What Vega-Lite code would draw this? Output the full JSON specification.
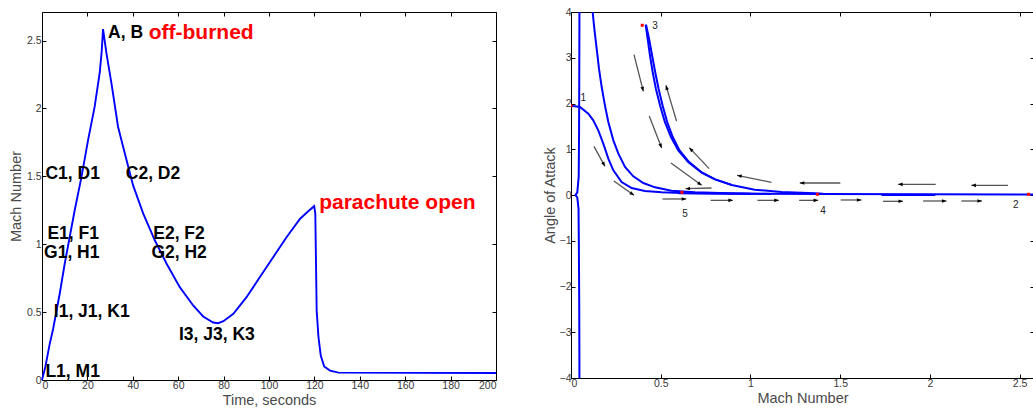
{
  "$schema": "https://vega.github.io/schema/vega-lite/v6.json",
  "padding": {"left": 7, "top": 6, "right": 0, "bottom": 0},
  "background": "white",
  "spacing": 40,
  "config": {
    "view": {"stroke": "#000", "strokeWidth": 1},
    "axis": {
      "labelFont": "Liberation Sans", "labelFontSize": 10.5, "labelColor": "#3a3a3a",
      "titleFont": "Liberation Sans", "titleFontSize": 14.5, "titleFontWeight": "normal", "titleColor": "#4a4a4a",
      "grid": false, "domain": false, "tickColor": "#000", "tickSize": -4, "labelPadding": 4, "titlePadding": 3
    }
  },
  "datasets": {
    "mach": [
      {"t": 0, "M": 0}, {"t": 1.5, "M": 0.1}, {"t": 3.4, "M": 0.266}, {"t": 4.9, "M": 0.376},
      {"t": 7.8, "M": 0.635}, {"t": 10, "M": 0.856}, {"t": 12.2, "M": 1.053}, {"t": 14.4, "M": 1.25},
      {"t": 17.4, "M": 1.496}, {"t": 20.3, "M": 1.767}, {"t": 23.2, "M": 2.013}, {"t": 25.4, "M": 2.259},
      {"t": 26.3, "M": 2.42}, {"t": 26.9, "M": 2.584}, {"t": 28.4, "M": 2.406}, {"t": 30.6, "M": 2.185},
      {"t": 33.5, "M": 1.865}, {"t": 36.5, "M": 1.668}, {"t": 40.1, "M": 1.435}, {"t": 44.6, "M": 1.225},
      {"t": 49.7, "M": 1.029}, {"t": 54.9, "M": 0.856}, {"t": 60.7, "M": 0.684}, {"t": 66.6, "M": 0.549},
      {"t": 71.0, "M": 0.468}, {"t": 75.4, "M": 0.423}, {"t": 77.6, "M": 0.418}, {"t": 79.9, "M": 0.433},
      {"t": 84.3, "M": 0.487}, {"t": 90.1, "M": 0.61}, {"t": 96.0, "M": 0.758}, {"t": 101.9, "M": 0.906},
      {"t": 107.8, "M": 1.053}, {"t": 113.7, "M": 1.188}, {"t": 117.4, "M": 1.245}, {"t": 119.9, "M": 1.28},
      {"t": 120.4, "M": 1.225}, {"t": 121.0, "M": 0.512}, {"t": 121.8, "M": 0.315}, {"t": 122.8, "M": 0.18},
      {"t": 124.3, "M": 0.1}, {"t": 126.9, "M": 0.069}, {"t": 130.6, "M": 0.054}, {"t": 200, "M": 0.052}
    ],
    "marks": [
      {"t": 29.1, "M": 2.555, "label": "A, B"},
      {"t": 1.5, "M": 1.514, "label": "C1, D1"},
      {"t": 36.9, "M": 1.514, "label": "C2, D2"},
      {"t": 2.4, "M": 1.075, "label": "E1, F1"},
      {"t": 49.0, "M": 1.075, "label": "E2, F2"},
      {"t": 0.9, "M": 0.938, "label": "G1, H1"},
      {"t": 48.2, "M": 0.938, "label": "G2, H2"},
      {"t": 5.2, "M": 0.499, "label": "I1, J1, K1"},
      {"t": 60.3, "M": 0.332, "label": "I3, J3, K3"},
      {"t": 1.5, "M": 0.061, "label": "L1, M1"}
    ],
    "events": [
      {"t": 47.0, "M": 2.555, "label": "off-burned"},
      {"t": 122.1, "M": 1.3, "label": "parachute open"}
    ],
    "traj": [
      {"c": "t0", "i": 0, "M": 0.047, "a": -4}, {"c": "t0", "i": 1, "M": 0.046, "a": -2.5},
      {"c": "t0", "i": 2, "M": 0.044, "a": -1.2}, {"c": "t0", "i": 3, "M": 0.042, "a": -0.3},
      {"c": "t0", "i": 4, "M": 0.035, "a": -0.05}, {"c": "t0", "i": 5, "M": 0.025, "a": 0},
      {"c": "t0", "i": 6, "M": 0.035, "a": 0.05}, {"c": "t0", "i": 7, "M": 0.043, "a": 0.4},
      {"c": "t0", "i": 8, "M": 0.045, "a": 1.4}, {"c": "t0", "i": 9, "M": 0.046, "a": 2.5},
      {"c": "t0", "i": 10, "M": 0.047, "a": 4},
      {"c": "t1", "i": 0, "M": 0.0, "a": 1.95}, {"c": "t1", "i": 1, "M": 0.05, "a": 1.924},
      {"c": "t1", "i": 2, "M": 0.0965, "a": 1.778}, {"c": "t1", "i": 3, "M": 0.124, "a": 1.632},
      {"c": "t1", "i": 4, "M": 0.152, "a": 1.413}, {"c": "t1", "i": 5, "M": 0.18, "a": 1.122},
      {"c": "t1", "i": 6, "M": 0.208, "a": 0.794}, {"c": "t1", "i": 7, "M": 0.236, "a": 0.539},
      {"c": "t1", "i": 8, "M": 0.282, "a": 0.284}, {"c": "t1", "i": 9, "M": 0.338, "a": 0.153},
      {"c": "t1", "i": 10, "M": 0.412, "a": 0.087}, {"c": "t1", "i": 11, "M": 0.505, "a": 0.058},
      {"c": "t1", "i": 12, "M": 0.616, "a": 0.044}, {"c": "t1", "i": 13, "M": 0.8, "a": 0.035},
      {"c": "t1", "i": 14, "M": 1.0, "a": 0.03},
      {"c": "t2", "i": 0, "M": 0.1206, "a": 4.0}, {"c": "t2", "i": 1, "M": 0.13, "a": 3.636},
      {"c": "t2", "i": 2, "M": 0.143, "a": 3.2}, {"c": "t2", "i": 3, "M": 0.156, "a": 2.76},
      {"c": "t2", "i": 4, "M": 0.171, "a": 2.36}, {"c": "t2", "i": 5, "M": 0.189, "a": 1.96},
      {"c": "t2", "i": 6, "M": 0.208, "a": 1.596}, {"c": "t2", "i": 7, "M": 0.236, "a": 1.195},
      {"c": "t2", "i": 8, "M": 0.264, "a": 0.903}, {"c": "t2", "i": 9, "M": 0.301, "a": 0.612},
      {"c": "t2", "i": 10, "M": 0.347, "a": 0.408}, {"c": "t2", "i": 11, "M": 0.403, "a": 0.262},
      {"c": "t2", "i": 12, "M": 0.468, "a": 0.168}, {"c": "t2", "i": 13, "M": 0.56, "a": 0.095},
      {"c": "t2", "i": 14, "M": 0.69, "a": 0.058}, {"c": "t2", "i": 15, "M": 0.876, "a": 0.036},
      {"c": "t2", "i": 16, "M": 1.117, "a": 0.022},
      {"c": "t3", "i": 0, "M": 0.416, "a": 3.723}, {"c": "t3", "i": 1, "M": 0.427, "a": 3.417},
      {"c": "t3", "i": 2, "M": 0.44, "a": 3.053}, {"c": "t3", "i": 3, "M": 0.455, "a": 2.689},
      {"c": "t3", "i": 4, "M": 0.473, "a": 2.324}, {"c": "t3", "i": 5, "M": 0.496, "a": 1.96},
      {"c": "t3", "i": 6, "M": 0.523, "a": 1.596}, {"c": "t3", "i": 7, "M": 0.557, "a": 1.268},
      {"c": "t3", "i": 8, "M": 0.598, "a": 0.976}, {"c": "t3", "i": 9, "M": 0.653, "a": 0.721},
      {"c": "t3", "i": 10, "M": 0.728, "a": 0.488}, {"c": "t3", "i": 11, "M": 0.802, "a": 0.342},
      {"c": "t3", "i": 12, "M": 0.895, "a": 0.219}, {"c": "t3", "i": 13, "M": 1.024, "a": 0.117},
      {"c": "t3", "i": 14, "M": 1.173, "a": 0.066}, {"c": "t3", "i": 15, "M": 1.359, "a": 0.036},
      {"c": "t3", "i": 16, "M": 1.405, "a": 0.029},
      {"c": "t3b", "i": 0, "M": 0.418, "a": 3.72}, {"c": "t3b", "i": 1, "M": 0.435, "a": 3.417},
      {"c": "t3b", "i": 2, "M": 0.452, "a": 3.053}, {"c": "t3b", "i": 3, "M": 0.469, "a": 2.689},
      {"c": "t3b", "i": 4, "M": 0.488, "a": 2.324}, {"c": "t3b", "i": 5, "M": 0.51, "a": 1.96},
      {"c": "t3b", "i": 6, "M": 0.536, "a": 1.596}, {"c": "t3b", "i": 7, "M": 0.567, "a": 1.268},
      {"c": "t3b", "i": 8, "M": 0.605, "a": 0.976}, {"c": "t3b", "i": 9, "M": 0.658, "a": 0.721},
      {"c": "t3b", "i": 10, "M": 0.731, "a": 0.488}, {"c": "t3b", "i": 11, "M": 0.804, "a": 0.342},
      {"c": "t3b", "i": 12, "M": 0.895, "a": 0.222},
      {"c": "t4", "i": 0, "M": 0.6, "a": 0.04}, {"c": "t4", "i": 1, "M": 1.0, "a": 0.028},
      {"c": "t4", "i": 2, "M": 1.4, "a": 0.022}, {"c": "t4", "i": 3, "M": 2.0, "a": 0.016},
      {"c": "t4", "i": 4, "M": 2.58, "a": 0.012},
      {"c": "t5", "i": 0, "M": 1.73, "a": 0.0}, {"c": "t5", "i": 1, "M": 2.03, "a": 0.0}
    ],
    "arrows": [
      {"x": 0.351, "y": 3.067, "x2": 0.403, "y2": 2.266},
      {"x": 0.588, "y": 1.617, "x2": 0.529, "y2": 2.397},
      {"x": 0.436, "y": 1.727, "x2": 0.505, "y2": 1.027},
      {"x": 0.77, "y": 0.576, "x2": 0.659, "y2": 1.035},
      {"x": 0.557, "y": 0.699, "x2": 0.728, "y2": 0.211},
      {"x": 0.128, "y": 1.064, "x2": 0.189, "y2": 0.627},
      {"x": 0.239, "y": 0.306, "x2": 0.351, "y2": -0.007},
      {"x": 1.117, "y": 0.277, "x2": 0.926, "y2": 0.43},
      {"x": 0.783, "y": 0.153, "x2": 0.638, "y2": 0.138},
      {"x": 1.501, "y": 0.262, "x2": 1.275, "y2": 0.262},
      {"x": 2.032, "y": 0.233, "x2": 1.823, "y2": 0.233},
      {"x": 2.435, "y": 0.211, "x2": 2.231, "y2": 0.211},
      {"x": 0.51, "y": -0.087, "x2": 0.642, "y2": -0.087},
      {"x": 0.778, "y": -0.117, "x2": 0.902, "y2": -0.117},
      {"x": 1.039, "y": -0.117, "x2": 1.158, "y2": -0.117},
      {"x": 1.271, "y": -0.117, "x2": 1.377, "y2": -0.117},
      {"x": 1.503, "y": -0.109, "x2": 1.618, "y2": -0.109},
      {"x": 1.739, "y": -0.138, "x2": 1.85, "y2": -0.138},
      {"x": 1.962, "y": -0.131, "x2": 2.092, "y2": -0.131},
      {"x": 2.175, "y": -0.131, "x2": 2.29, "y2": -0.131}
    ],
    "pts": [
      {"M": 0.0, "a": 1.95, "label": "1", "lx": 0.069, "ly": 2.13},
      {"M": 0.397, "a": 3.71, "label": "3", "lx": 0.468, "ly": 3.69},
      {"M": 0.618, "a": 0.058, "label": "5", "lx": 0.635, "ly": -0.42},
      {"M": 1.373, "a": 0.015, "label": "4", "lx": 1.405, "ly": -0.357},
      {"M": 2.55, "a": 0.015, "label": "2", "lx": 2.478, "ly": -0.226}
    ]
  },
  "hconcat": [
    {
      "width": 454,
      "height": 368,
      "resolve": {"axis": {"x": "independent", "y": "independent"}},
      "layer": [
        {
          "data": {"name": "mach"},
          "mark": {"type": "line", "color": "#0000ff", "strokeWidth": 1.9},
          "encoding": {
            "x": {"field": "t", "type": "quantitative", "scale": {"domain": [0, 200], "nice": false},
                  "axis": {"title": "Time, seconds", "values": [0, 20, 40, 60, 80, 100, 120, 140, 160, 180, 200], "format": "d"}},
            "y": {"field": "M", "type": "quantitative", "scale": {"domain": [0, 2.71], "nice": false},
                  "axis": {"title": "Mach Number", "values": [0, 0.5, 1, 1.5, 2, 2.5], "format": ".1~f", "labelPadding": 5}},
            "order": {"field": "t"}
          }
        },
        {
          "data": {"name": "mach"},
          "mark": {"type": "point", "opacity": 0},
          "encoding": {
            "x": {"field": "t", "type": "quantitative", "axis": {"orient": "top", "labels": false, "title": null, "values": [0, 20, 40, 60, 80, 100, 120, 140, 160, 180, 200]}},
            "y": {"field": "M", "type": "quantitative", "axis": {"orient": "right", "labels": false, "title": null, "values": [0, 0.5, 1, 1.5, 2, 2.5]}}
          }
        },
        {
          "data": {"name": "marks"},
          "mark": {"type": "text", "align": "left", "baseline": "middle", "font": "Liberation Sans", "fontWeight": "bold", "fontSize": 17.5, "color": "#000"},
          "encoding": {
            "x": {"field": "t", "type": "quantitative", "axis": null},
            "y": {"field": "M", "type": "quantitative", "axis": null},
            "text": {"field": "label"}
          }
        },
        {
          "data": {"name": "events"},
          "mark": {"type": "text", "align": "left", "baseline": "middle", "font": "Liberation Sans", "fontWeight": "bold", "fontSize": 21, "color": "#ff0000"},
          "encoding": {
            "x": {"field": "t", "type": "quantitative", "axis": null},
            "y": {"field": "M", "type": "quantitative", "axis": null},
            "text": {"field": "label"}
          }
        }
      ]
    },
    {
      "width": 463,
      "height": 366,
      "resolve": {"axis": {"x": "independent", "y": "independent"}},
      "layer": [
        {
          "data": {"name": "traj"},
          "mark": {"type": "line", "color": "#0000ff", "strokeWidth": 2, "clip": true},
          "encoding": {
            "x": {"field": "M", "type": "quantitative", "scale": {"domain": [0, 2.58], "nice": false},
                  "axis": {"title": "Mach Number", "values": [0, 0.5, 1, 1.5, 2, 2.5], "format": ".1~f"}},
            "y": {"field": "a", "type": "quantitative", "scale": {"domain": [-4, 4], "nice": false},
                  "axis": {"title": "Angle of Attack", "values": [-4, -3, -2, -1, 0, 1, 2, 3, 4], "format": "d", "titlePadding": 2}},
            "detail": {"field": "c"},
            "order": {"field": "i"}
          }
        },
        {
          "data": {"name": "traj"},
          "mark": {"type": "point", "opacity": 0},
          "encoding": {
            "x": {"field": "M", "type": "quantitative", "axis": {"orient": "top", "labels": false, "title": null, "values": [0, 0.5, 1, 1.5, 2, 2.5]}},
            "y": {"field": "a", "type": "quantitative", "axis": {"orient": "right", "labels": false, "title": null, "values": [-4, -3, -2, -1, 0, 1, 2, 3, 4]}}
          }
        },
        {
          "data": {"name": "arrows"},
          "mark": {"type": "rule", "color": "#555555", "strokeWidth": 1.3},
          "encoding": {
            "x": {"field": "x", "type": "quantitative", "axis": null},
            "y": {"field": "y", "type": "quantitative", "axis": null},
            "x2": {"field": "x2"},
            "y2": {"field": "y2"}
          }
        },
        {
          "data": {"name": "arrows"},
          "transform": [
            {"calculate": "atan2((datum.x2 - datum.x) * 179.46, (datum.y2 - datum.y) * 45.75) * 180 / PI", "as": "ang"}
          ],
          "mark": {"type": "point", "shape": "M0,0L-0.4,1L0.4,1Z", "filled": true, "color": "#000", "opacity": 1, "size": 81},
          "encoding": {
            "x": {"field": "x2", "type": "quantitative", "axis": null},
            "y": {"field": "y2", "type": "quantitative", "axis": null},
            "angle": {"field": "ang", "type": "quantitative", "scale": null}
          }
        },
        {
          "data": {"name": "pts"},
          "mark": {"type": "square", "color": "#ff0000", "size": 9, "opacity": 1, "clip": true},
          "encoding": {
            "x": {"field": "M", "type": "quantitative", "axis": null},
            "y": {"field": "a", "type": "quantitative", "axis": null}
          }
        },
        {
          "data": {"name": "pts"},
          "mark": {"type": "text", "font": "Liberation Sans", "fontSize": 10, "color": "#222", "align": "center", "baseline": "middle"},
          "encoding": {
            "x": {"field": "lx", "type": "quantitative", "axis": null},
            "y": {"field": "ly", "type": "quantitative", "axis": null},
            "text": {"field": "label"}
          }
        }
      ]
    }
  ]
}
